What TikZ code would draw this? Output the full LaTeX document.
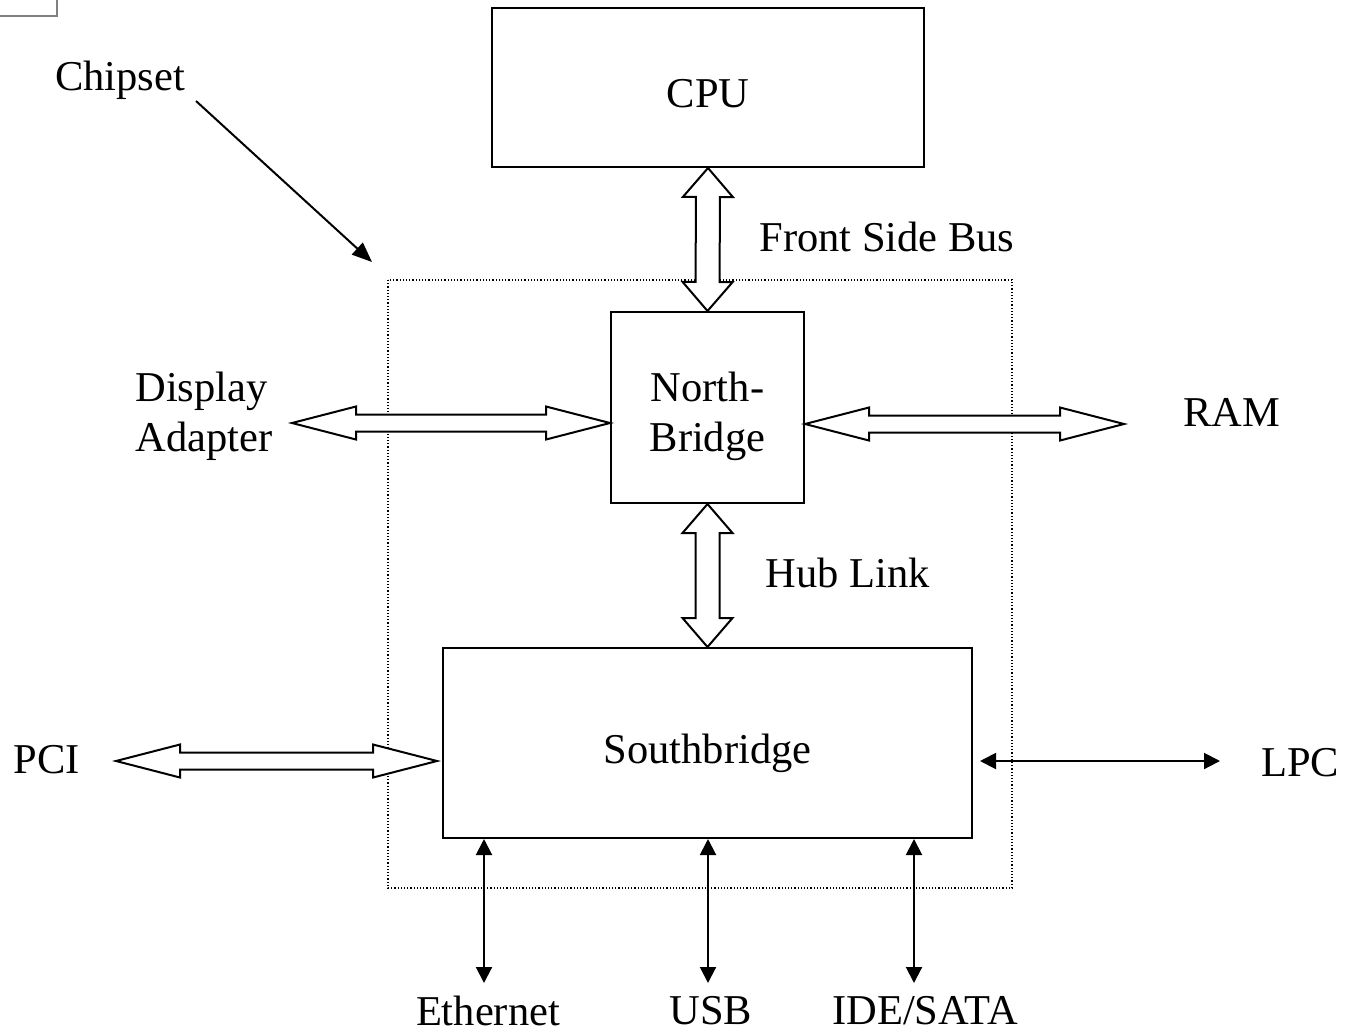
\documentclass[tikz,border=0pt]{standalone}
\usepackage{fontspec}
\setmainfont{Liberation Serif}
\usetikzlibrary{calc,arrows.meta}

% hollow two-headed bus arrow: from, to, shaft half, head half, head length
\newcommand{\busarrow}[5]{%
\draw[bus] (#1) -- ($(#1)!#5!(#2)!#4!90:(#2)$) -- ($(#1)!#5!(#2)!#3!90:(#2)$)
  -- ($(#2)!#5!(#1)!#3!-90:(#1)$) -- ($(#2)!#5!(#1)!#4!-90:(#1)$) -- (#2)
  -- ($(#2)!#5!(#1)!#4!90:(#1)$) -- ($(#2)!#5!(#1)!#3!90:(#1)$)
  -- ($(#1)!#5!(#2)!#3!-90:(#2)$) -- ($(#1)!#5!(#2)!#4!-90:(#2)$) -- cycle;}

\begin{document}
\begin{tikzpicture}[x=0.5pt,y=-0.5pt,font=\fontsize{21.25}{25}\selectfont,
  box/.style={draw,line width=1pt,inner sep=0pt},
  bus/.style={draw,line width=1pt,line join=miter,fill=white},
  wire/.style={line width=1pt,{Triangle[length=8pt,width=8pt]}-{Triangle[length=8pt,width=8pt]}},
  lbl/.style={inner sep=0pt}]
\useasboundingbox (0,0) rectangle (1348,1033);

% leftover frame in the corner
\draw[gray,line width=1pt] (-20,-20) rectangle (57,16);

\draw[line width=0.6pt,dash pattern=on 0.6pt off 1pt] (388,280) rectangle (1012,888);

\node[box,minimum width=216pt,minimum height=79.5pt,
  label={[lbl,yshift=-3pt]center:CPU}] (cpu) at (708,87.5) {};
\node[box,minimum width=96.5pt,minimum height=95.5pt,
  label={[lbl,yshift=-4.5pt,align=center]center:North-\\Bridge}] (nb) at (707.5,407.5) {};
\node[box,minimum width=264.5pt,minimum height=95pt,
  label={[lbl,yshift=-5pt]center:Southbridge}] (sb) at (707.5,743) {};

\node[lbl] (chiplbl) at (120,80) {Chipset};
\node[lbl,anchor=west] (fsb) at (759,237) {Front Side Bus};
\node[lbl,anchor=west] (hub) at (765,573) {Hub Link};
\node[lbl,anchor=west,align=left] (disp) at (135,416) {Display\\Adapter};
\node[lbl] (ram) at (1232,412) {RAM};
\node[lbl] (pci) at (47,760) {PCI};
\node[lbl] (lpc) at (1300,763) {LPC};
\node[lbl] (eth) at (488,1011) {Ethernet};
\node[lbl] (usb) at (711,1011) {USB};
\node[lbl] (ide) at (925,1011) {IDE/SATA};

\coordinate (chipa) at (196,101);
\coordinate (chipb) at (372,262);
\coordinate (dispa) at (292,423);
\coordinate (rama) at (1124,424);
\coordinate (pcia) at (116,761);
\coordinate (pcib) at (437,761);
\coordinate (lpca) at (980,761);
\coordinate (lpcb) at (1220,761);
\coordinate (etha) at (484,983);
\coordinate (usba) at (708,983);
\coordinate (idea) at (914,983);

\draw[line width=1pt,-{Triangle[length=10pt,width=8pt]}] (chipa) -- (chipb);

\busarrow{cpu.south}{nb.north}{6pt}{12.5pt}{14.5pt}
\busarrow{nb.south}{sb.north}{6pt}{12.5pt}{14.5pt}
\busarrow{dispa}{dispa -| nb.west}{4.25pt}{8.25pt}{32pt}
\busarrow{nb.east |- rama}{rama}{4.25pt}{8.25pt}{32pt}
\busarrow{pcia}{pcib}{4.25pt}{8.25pt}{32pt}

\draw[wire] (lpca) -- (lpcb);
\draw[wire] (etha |- sb.south) -- (etha);
\draw[wire] (usba |- sb.south) -- (usba);
\draw[wire] (idea |- sb.south) -- (idea);
\end{tikzpicture}
\end{document}
